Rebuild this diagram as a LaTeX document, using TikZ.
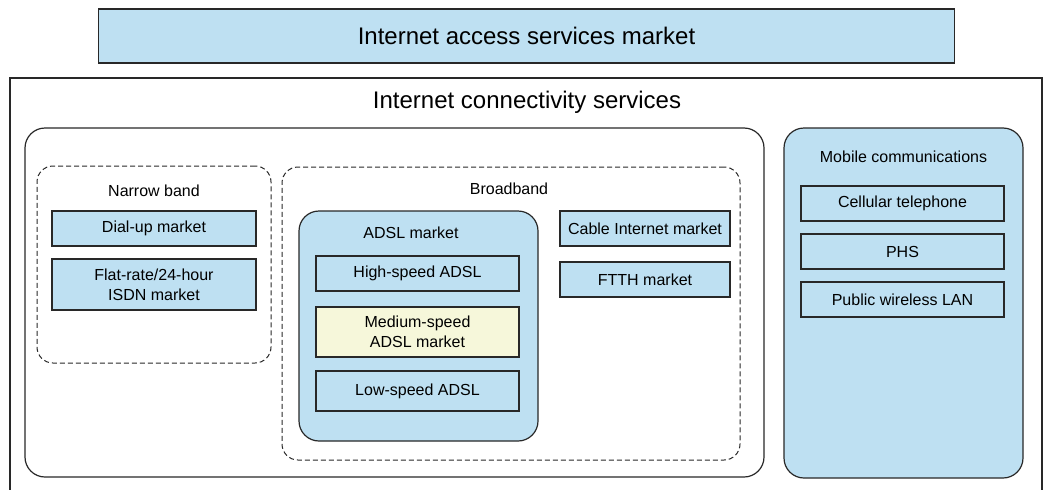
\documentclass[tikz,border=0pt]{standalone}
\usepackage{fontspec}
\setmainfont{Liberation Sans}
\definecolor{marketblue}{RGB}{190,224,242}
\definecolor{marketcream}{RGB}{246,247,218}
\definecolor{edgegray}{RGB}{40,40,40}

\tikzset{
  market/.style={draw=edgegray, line width=1.2pt, fill=marketblue, inner sep=0pt,
    align=center, font=\fontsize{16}{20}\selectfont},
  group/.style={draw=edgegray, line width=1.2pt, rounded corners=20pt, inner sep=0pt},
  band/.style={draw=edgegray, line width=1pt, dash pattern=on 5pt off 3pt,
    rounded corners=16pt, inner sep=0pt},
  caption/.style={font=\fontsize{16}{20}\selectfont, inner sep=0pt},
  bigcaption/.style={font=\fontsize{24}{28}\selectfont, inner sep=0pt}
}

\begin{document}
\begin{tikzpicture}[x=1pt, y=-1pt]
  \useasboundingbox (0,0) rectangle (1047,490);

  % access market on top
  \node[market, font=\fontsize{24}{28}\selectfont, minimum width=856, minimum height=54]
    (access) at (526.5,36) {Internet access services market};

  % connectivity frame, open at the bottom
  \draw[draw=edgegray, line width=1.2pt] (10,490) -- (10,78) -- (1042,78) -- (1042,490);
  \node[bigcaption] (connect) at (527,102) {Internet connectivity services};

  % fixed line side
  \node[group, fill=white, minimum width=739, minimum height=349] (fixed) at (394.5,302.5) {};

  \node[band, minimum width=234, minimum height=197] (narrow) at (154,264.5) {};
  \node[caption] (narrowlbl) at (154,191) {Narrow band};
  \node[market, minimum width=204, minimum height=35] (dialup) at (154,228.5) {Dial-up market};
  \node[market, minimum width=204, minimum height=51] (isdn) at (154,284.5)
    {Flat-rate/24-hour\\ISDN market};

  \node[band, minimum width=458, minimum height=293] (broad) at (511,313.5) {};
  \node[caption] (broadlbl) at (509,189) {Broadband};

  \node[group, fill=marketblue, minimum width=239, minimum height=230] (adsl) at (418.5,326) {};
  \node[caption] (adsllbl) at (411,233) {ADSL market};
  \node[market, minimum width=203, minimum height=35] (high) at (417.5,273.5) {High-speed ADSL};
  \node[market, fill=marketcream, minimum width=203, minimum height=50] (medium) at (417.5,332)
    {Medium-speed\\ADSL market};
  \node[market, minimum width=203, minimum height=40] (low) at (417.5,391) {Low-speed ADSL};

  \node[market, minimum width=170, minimum height=35] (cable) at (645,228.5) {Cable Internet market};
  \node[market, minimum width=170, minimum height=35] (ftth) at (645,279.5) {FTTH market};

  % mobile side
  \node[group, fill=marketblue, minimum width=239, minimum height=350] (mobile) at (903.5,303) {};
  \node[caption] (mobilelbl) at (903.5,157) {Mobile communications};
  \node[market, minimum width=203, minimum height=35] (cellular) at (902.5,203.5) {Cellular telephone};
  \node[market, minimum width=203, minimum height=35] (phs) at (902.5,251.5) {PHS};
  \node[market, minimum width=203, minimum height=35] (wlan) at (902.5,299.5) {Public wireless LAN};
\end{tikzpicture}
\end{document}
